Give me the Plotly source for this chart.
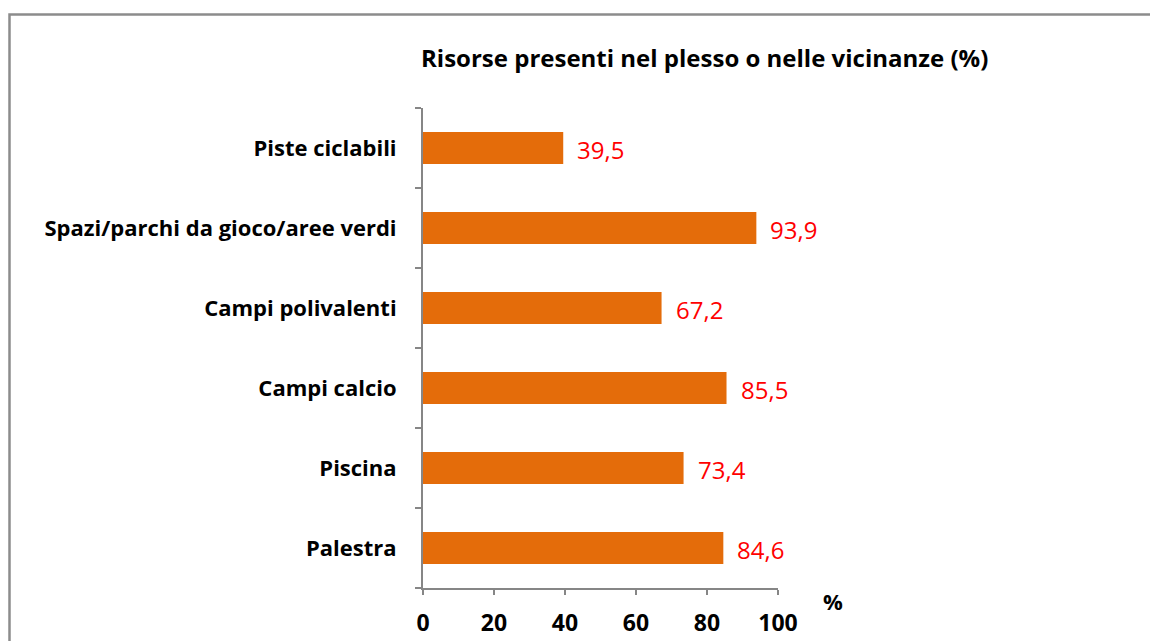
import plotly.graph_objects as go

# Survey results: share of schools with each resource nearby
categories = [
    "Piste ciclabili",
    "Spazi/parchi da gioco/aree verdi",
    "Campi polivalenti",
    "Campi calcio",
    "Piscina",
    "Palestra",
]
values = [39.5, 93.9, 67.2, 85.5, 73.4, 84.6]
x_ticks = [0, 20, 40, 60, 80, 100]

W, H = 1150, 641
# plot-area edges in pixels
PL, PR, PT, PB = 422.7, 778.3, 108, 588

BAR = "#E46C0A"
AXIS = "#868686"
FONT = "Open Sans"

fig = go.Figure(
    go.Bar(
        x=values,
        y=categories,
        orientation="h",
        marker=dict(color=BAR, line=dict(width=0)),
        width=0.4,
        hoverinfo="skip",
    )
)

# value labels in red, just right of each bar
for c, v in zip(categories, values):
    fig.add_annotation(
        x=v, y=c, xref="x", yref="y",
        text=f"{v:.1f}".replace(".", ","),
        showarrow=False, xanchor="left", yanchor="middle",
        xshift=12, yshift=-1,
        font=dict(family=FONT, size=24, color="#FF0000"),
    )

pw, ph = PR - PL, PB - PT


def px_to_paper(px, py):
    return (px - PL) / pw, (PB - py) / ph


# outer frame
x0, y0 = px_to_paper(8.5, 14.5)
x1, y1 = px_to_paper(1200, 700)
fig.add_shape(type="rect", xref="paper", yref="paper",
              x0=x0, y0=y1, x1=x1, y1=y0,
              line=dict(color="#8C8C8C", width=2.5), fillcolor="rgba(0,0,0,0)",
              layer="below")

# title
tx, ty = px_to_paper(705, 58)
fig.add_annotation(xref="paper", yref="paper", x=tx, y=ty,
                   text="<b>Risorse presenti nel plesso o nelle vicinanze (%)</b>",
                   showarrow=False, xanchor="center", yanchor="middle",
                   font=dict(family=FONT, size=24, color="#000000"))

# axis unit
ux, uy = px_to_paper(833, 601)
fig.add_annotation(xref="paper", yref="paper", x=ux, y=uy,
                   text="<b>%</b>", showarrow=False,
                   xanchor="center", yanchor="middle",
                   font=dict(family=FONT, size=22, color="#000000"))

fig.update_layout(
    width=W, height=H,
    margin=dict(l=PL, r=W - PR, t=PT, b=H - PB, pad=0),
    paper_bgcolor="white", plot_bgcolor="white",
    showlegend=False,
    bargap=0.6,
    xaxis=dict(
        range=[0, 100], tickvals=x_ticks,
        ticktext=[f"<b>{t}</b>" for t in x_ticks],
        showgrid=False, zeroline=False,
        showline=True, linecolor=AXIS, linewidth=2,
        ticks="outside", ticklen=5, tickcolor=AXIS, tickwidth=2,
        ticklabelstandoff=8,
        tickfont=dict(family=FONT, size=23, color="#000000"),
        automargin=False,
        fixedrange=True,
    ),
    yaxis=dict(
        categoryorder="array", categoryarray=categories,
        autorange="reversed",
        tickson="boundaries",
        tickvals=categories,
        ticktext=[f"<b>{c}</b>" for c in categories],
        showgrid=False, zeroline=False,
        showline=True, linecolor=AXIS, linewidth=2,
        ticks="outside", ticklen=6, tickcolor=AXIS, tickwidth=2,
        ticklabelstandoff=20,
        tickfont=dict(family=FONT, size=22, color="#000000"),
        automargin=False,
        fixedrange=True,
    ),
)

fig.write_html("out.html")
